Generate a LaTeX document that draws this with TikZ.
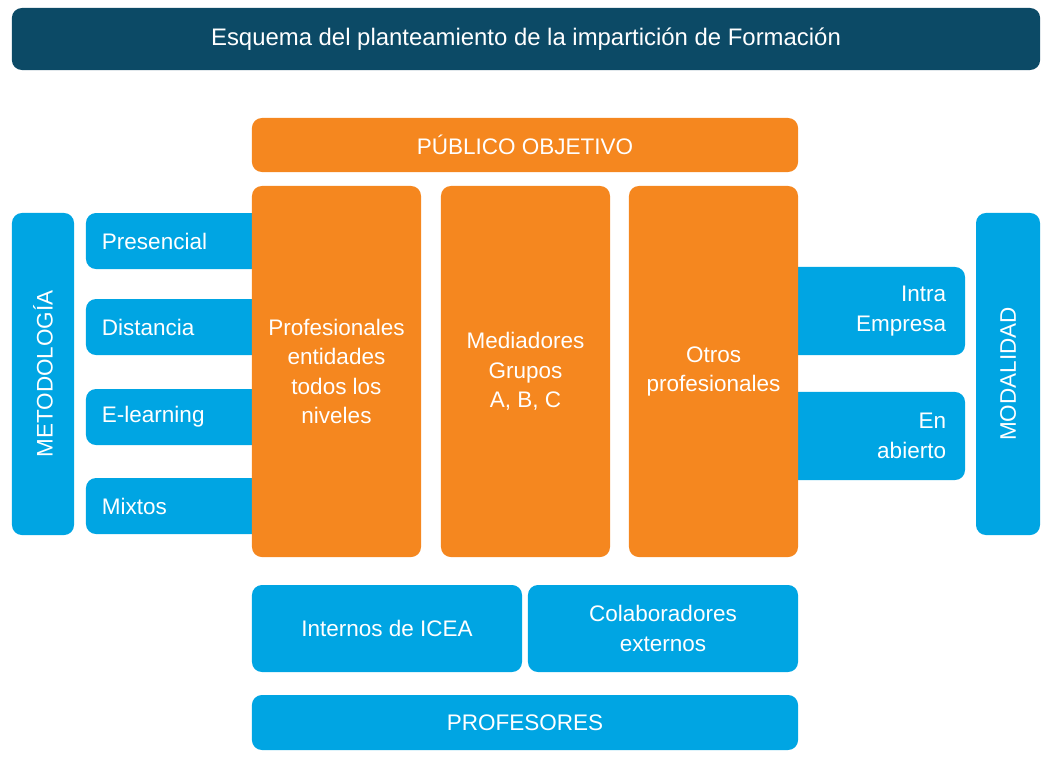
\documentclass[tikz,border=0pt]{standalone}
\usepackage{fontspec}
\setmainfont{Liberation Sans}
\definecolor{orangeb}{HTML}{F5871F}
\definecolor{blueb}{HTML}{00A5E3}
\definecolor{darkb}{HTML}{0C4A66}
\tikzset{
  box/.style={rounded corners=0.25cm,text=white,align=center,inner sep=0pt,
    font=\fontsize{16}{21}\selectfont},
  orangebox/.style={box,fill=orangeb},
  bluebox/.style={box,fill=blueb},
  leftrow/.style={bluebox,align=left,text width=3.8cm,inner xsep=0.4cm,minimum height=1.4cm},
  rightrow/.style={bluebox,align=right,text width=3.675cm,inner xsep=0.475cm,minimum height=2.2cm},
}
\begin{document}
\begin{tikzpicture}[x=0.025cm,y=-0.025cm]
\useasboundingbox (0,0) rectangle (1051,758);

\node[box,fill=darkb,minimum width=25.7cm,minimum height=1.55cm,font=\fontsize{17}{20}\selectfont] (title) at (526,39) {Esquema del planteamiento de la impartición de Formación};

% metodologia
\node[bluebox,minimum width=1.55cm,minimum height=8.05cm] (metodo) at (43,374) {};
\node[text=white,rotate=90,font=\fontsize{16}{21}\selectfont] at (metodo) {METODOLOGÍA};
\node[leftrow] (presencial) at (178,241) {Presencial};
\node[leftrow] (distancia) at (178,327) {Distancia};
\node[leftrow] (elearning) at (178,417) {E-learning};
\node[leftrow] (mixtos) at (178,506) {Mixtos};

% modalidad
\node[bluebox,minimum width=1.6cm,minimum height=8.05cm] (modal) at (1008,374) {};
\node[text=white,rotate=90,font=\fontsize{16}{21}\selectfont] at (modal) {MODALIDAD};
\node[rightrow] (intra) at (872.5,311) {Intra\\Empresa};
\node[rightrow] (abierto) at (872.5,436) {En\\abierto};

% publico objetivo
\node[orangebox,minimum width=13.65cm,minimum height=1.35cm] (publico) at (525,145) {PÚBLICO OBJETIVO};
\node[orangebox,minimum width=4.225cm,minimum height=9.275cm] (entidades) at (336.5,371.5) {Profesionales\\entidades\\todos los\\niveles};
\node[orangebox,minimum width=4.225cm,minimum height=9.275cm] (mediadores) at (525.5,371.5) {Mediadores\\Grupos\\A, B, C};
\node[orangebox,minimum width=4.225cm,minimum height=9.275cm] (otros) at (713.5,371.5) {Otros\\profesionales};

% profesores
\node[bluebox,minimum width=6.75cm,minimum height=2.175cm] (internos) at (387,628.5) {Internos de ICEA};
\node[bluebox,minimum width=6.75cm,minimum height=2.175cm] (colab) at (663,628.5) {Colaboradores\\externos};
\node[bluebox,minimum width=13.65cm,minimum height=1.375cm] (profesores) at (525,722.5) {PROFESORES};
\end{tikzpicture}
\end{document}
